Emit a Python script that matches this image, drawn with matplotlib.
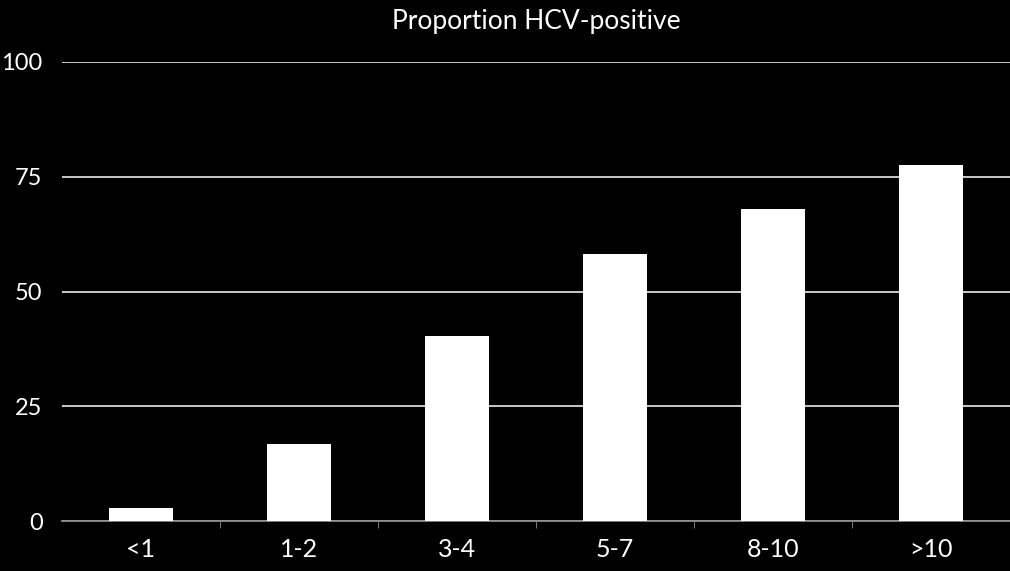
import matplotlib
matplotlib.use('Agg')
import matplotlib.pyplot as plt

categories = ['<1', '1-2', '3-4', '5-7', '8-10', '>10']
proportion = [2.8, 16.8, 40.4, 58.1, 67.9, 77.6]
yticks = [0, 25, 50, 75, 100]

plt.rcParams['font.family'] = ['Lato', 'DejaVu Sans']

fig = plt.figure(figsize=(10.1, 5.71), dpi=100, facecolor='black')
ax = fig.add_axes([62/1010, 50/571, 948/1010, 459/571], facecolor='black')

x = range(len(categories))
ax.bar(x, proportion, width=0.4, color='white', zorder=3)

ax.set_xlim(-0.5, len(categories) - 0.5)
ax.set_ylim(0, 100)
ax.set_yticks(yticks)
ax.set_xticks(list(x))
ax.set_xticklabels(categories)
ax.yaxis.grid(True, color='#d9d9d9', linewidth=1.3)
ax.set_axisbelow(True)

for s in ['top', 'right', 'left']:
    ax.spines[s].set_visible(False)
ax.spines['bottom'].set_color('#8c8c8c')
ax.spines['bottom'].set_linewidth(1.3)

# small ticks between categories
ax.set_xticks([i + 0.5 for i in range(len(categories) - 1)], minor=True)
ax.tick_params(axis='x', which='minor', length=5, color='#8c8c8c', direction='out')
ax.tick_params(axis='x', which='major', length=0, pad=12, labelsize=18, labelcolor='white')
ax.tick_params(axis='y', length=0, pad=14, labelsize=17, labelcolor='white')

ax.set_title('Proportion HCV-positive', color='white', fontsize=19, pad=24)

fig.savefig('out.png', dpi=100, facecolor='black')
